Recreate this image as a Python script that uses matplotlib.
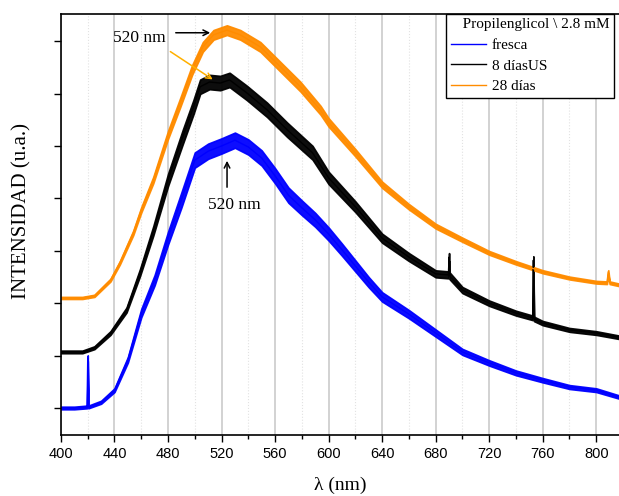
import matplotlib
matplotlib.use("Agg")
import matplotlib.pyplot as plt
import numpy as np

# wavelength (nm) and intensity (arb. units, one unit = one y tick)
wl_fresca = [400, 410, 419.5, 420, 420.5, 430, 440, 450, 460, 470, 480, 490, 500, 510,
             520, 530, 540, 550, 560, 570, 580, 590, 600, 610, 620, 630, 640, 660,
             680, 700, 720, 740, 760, 780, 800, 817]
i_fresca = [0.00, 0.00, 0.02, 0.95, 0.02, 0.11, 0.34, 0.92, 1.81, 2.44, 3.24, 3.97, 4.73, 4.90,
            5.00, 5.11, 4.98, 4.77, 4.43, 4.06, 3.82, 3.59, 3.32, 3.02, 2.71, 2.40, 2.12, 1.79,
            1.43, 1.07, 0.86, 0.67, 0.53, 0.40, 0.34, 0.21]

wl_8dias = [400, 416, 425, 437, 449, 459, 469, 480, 491, 499, 504, 511, 519, 526, 539,
            554, 569, 588, 600, 620, 640, 660, 680, 689.5, 690, 690.5, 700, 720, 740,
            752.5, 753, 753.5, 760, 780, 800, 817]
i_8dias = [1.07, 1.07, 1.15, 1.43, 1.87, 2.58, 3.38, 4.35, 5.17, 5.74, 6.13, 6.22, 6.20, 6.26, 6.01,
           5.69, 5.31, 4.87, 4.39, 3.84, 3.24, 2.88, 2.56, 2.54, 2.88, 2.52, 2.25, 2.00, 1.81,
           1.72, 2.82, 1.70, 1.62, 1.49, 1.43, 1.35]

wl_28dias = [400, 416, 425, 437, 444, 454, 460, 469, 480, 489, 498, 506, 514, 524, 534,
             549, 564, 579, 594, 600, 620, 640, 660, 680, 700, 720, 740, 760, 780, 800,
             808, 809, 810, 817]
i_28dias = [2.10, 2.10, 2.14, 2.44, 2.77, 3.34, 3.78, 4.35, 5.21, 5.82, 6.45, 6.89, 7.12, 7.21, 7.12,
            6.89, 6.51, 6.13, 5.68, 5.45, 4.87, 4.26, 3.84, 3.47, 3.21, 2.96, 2.77, 2.60, 2.48, 2.40,
            2.39, 2.60, 2.39, 2.35]

labels = ["fresca", "8 díasUS", "28 días"]
colors = ["#0000ff", "#000000", "#ff8c00"]

serif = "Liberation Serif"
sans = "Liberation Sans"

fig = plt.figure(figsize=(6.19, 4.96), dpi=100)
ax = fig.add_axes([0.0985, 0.123, 0.9015, 0.849])

# noise band: thin at the baseline, wider where the signal is strong
series = [(wl_fresca, i_fresca, 0.025, 0.03),
          (wl_8dias, i_8dias, 0.025, 0.028),
          (wl_28dias, i_28dias, 0.02, 0.018)]
for (wl, inten, hw0, k), c, lab in zip(series, colors, labels):
    y = np.array(inten)
    hw = hw0 + k * np.clip(y - y[0], 0, 4.0)
    ax.fill_between(wl, y - hw, y + hw, color=c, lw=1.2, edgecolor=c, alpha=0.95)
    ax.plot(wl, y, color=c, lw=1.0, label=lab)

ax.set_xlim(400, 817)
ax.set_ylim(-0.515, 7.52)

ax.set_xticks(range(400, 801, 40))
ax.set_xticks(range(420, 817, 40), minor=True)
ax.set_yticks(range(0, 8))
ax.set_yticklabels([])
ax.grid(True, axis="x", which="major", color="#cfcfcf", lw=1.3)
ax.grid(True, axis="x", which="minor", color="#e2e2e2", lw=0.8, ls=":")
ax.set_axisbelow(True)
ax.tick_params(axis="both", which="major", direction="out", length=5, width=1)
ax.tick_params(axis="x", which="minor", direction="out", length=3, width=1)
ax.tick_params(axis="x", labelsize=10.5, pad=4)
for t in ax.get_xticklabels():
    t.set_fontfamily(sans)
ax.spines["right"].set_visible(False)
for s in ["left", "top", "bottom"]:
    ax.spines[s].set_linewidth(1.2)

ax.set_xlabel("λ (nm)", fontfamily=serif, fontsize=14, labelpad=11)
ax.set_ylabel("INTENSIDAD (u.a.)", fontfamily=serif, fontsize=15)
ax.yaxis.set_label_coords(-0.052, 0.532)

# annotations
ax.annotate("", xy=(513.6, 7.16), xytext=(483.7, 7.16),
            arrowprops=dict(arrowstyle="->", color="black", lw=1.1))
ax.text(458.3, 7.06, "520 nm", fontfamily=serif, fontsize=12.5, ha="center", va="center")
ax.annotate("", xy=(515.1, 6.24), xytext=(480, 6.83),
            arrowprops=dict(arrowstyle="->", color="#ffb000", lw=1.1))
ax.annotate("", xy=(524.1, 4.77), xytext=(524.1, 4.16),
            arrowprops=dict(arrowstyle="->", color="black", lw=1.1))
ax.text(529.3, 3.87, "520 nm", fontfamily=serif, fontsize=12.5, ha="center", va="center")

leg = ax.legend(loc="upper left", bbox_to_anchor=(0.69, 1.0), borderaxespad=0,
                title="   Propilenglicol \\ 2.8 mM", frameon=True, fancybox=False,
                edgecolor="black", framealpha=1, handlelength=2.3, handletextpad=0.4,
                labelspacing=0.45, borderpad=0.3, alignment="left",
                prop={"family": serif, "size": 11},
                title_fontproperties={"family": serif, "size": 11})
leg.get_frame().set_linewidth(1.0)
for line in leg.get_lines():
    line.set_linewidth(1.0)

fig.savefig("out.png", dpi=100)
